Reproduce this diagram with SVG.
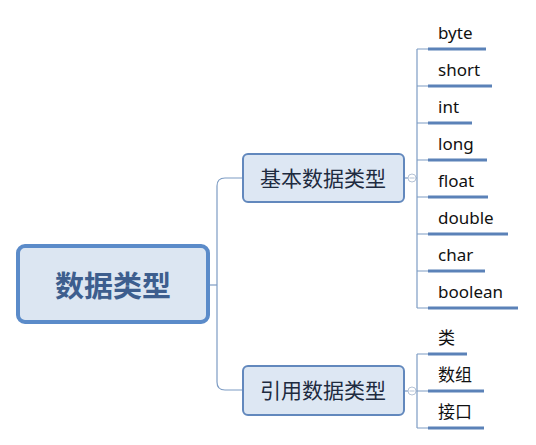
<svg xmlns="http://www.w3.org/2000/svg" width="536" height="445" viewBox="0 0 536 445">
<style>
.conn{fill:none;stroke:#7d9cc4;stroke-width:1.2}
.ul{stroke:#5b82b8;stroke-width:3;stroke-linecap:butt}
.box{fill:#dde7f3;stroke:#6288bd;stroke-width:2}
.root{fill:#dce6f2;stroke:#5b8bc9;stroke-width:4}
.lt{font-family:"Noto Sans","Noto Sans CJK SC",sans-serif;font-size:17px;fill:#111}
.bt{font-family:"Noto Sans CJK SC",sans-serif;font-size:21px;fill:#1e2b40;text-anchor:middle}
.rt{font-family:"Noto Sans CJK SC",sans-serif;font-size:29px;font-weight:bold;fill:#3d5e8e;text-anchor:middle}
.cc{fill:#fff;stroke:#b5c3d6;stroke-width:1}
</style>
<g id="connectors">
<path class="conn" d="M209 285 H217"/>
<path class="conn" d="M243 178 H225 Q217 178 217 186 V382 Q217 390 225 390 H243"/>
<path class="conn" d="M404 178 H417"/>
<path class="conn" d="M417 49 V308"/>
<path class="conn" d="M417 49 H428 M417 86 H428 M417 123 H428 M417 160 H428 M417 197 H428 M417 234 H428 M417 271 H428 M417 308 H428"/>
<path class="conn" d="M404 391 H417"/>
<path class="conn" d="M417 354 V428 M417 354 H428 M417 391 H428 M417 428 H428"/>
</g>
<g id="root">
<rect class="root" x="18" y="246" width="190" height="76" rx="7"/>
<text class="rt" x="113" y="297">数据类型</text>
</g>
<g id="basic">
<rect class="box" x="243" y="154" width="161" height="48" rx="5"/>
<text class="bt" x="323" y="185.5">基本数据类型</text>
<circle class="cc" cx="412" cy="178" r="4"/>
<path d="M409.5 178 H414.5" stroke="#b5c3d6" stroke-width="1"/>
</g>
<g id="ref">
<rect class="box" x="243" y="366" width="161" height="49" rx="5"/>
<text class="bt" x="323" y="398">引用数据类型</text>
<circle class="cc" cx="412" cy="391" r="4"/>
<path d="M409.5 391 H414.5" stroke="#b5c3d6" stroke-width="1"/>
</g>
<g id="byte"><text class="lt" x="438" y="39">byte</text><line class="ul" x1="428" y1="49" x2="486" y2="49"/></g>
<g id="short"><text class="lt" x="438" y="76">short</text><line class="ul" x1="428" y1="86" x2="492" y2="86"/></g>
<g id="int"><text class="lt" x="438" y="113">int</text><line class="ul" x1="428" y1="123" x2="472" y2="123"/></g>
<g id="long"><text class="lt" x="438" y="150">long</text><line class="ul" x1="428" y1="160" x2="487" y2="160"/></g>
<g id="float"><text class="lt" x="438" y="187">float</text><line class="ul" x1="428" y1="197" x2="488" y2="197"/></g>
<g id="double"><text class="lt" x="438" y="224">double</text><line class="ul" x1="428" y1="234" x2="508" y2="234"/></g>
<g id="char"><text class="lt" x="438" y="261">char</text><line class="ul" x1="428" y1="271" x2="485" y2="271"/></g>
<g id="boolean"><text class="lt" x="438" y="298">boolean</text><line class="ul" x1="428" y1="308" x2="518" y2="308"/></g>
<g id="class"><text class="lt" x="438" y="344">类</text><line class="ul" x1="428" y1="354" x2="467" y2="354"/></g>
<g id="array"><text class="lt" x="438" y="381">数组</text><line class="ul" x1="428" y1="391" x2="484" y2="391"/></g>
<g id="iface"><text class="lt" x="438" y="418">接口</text><line class="ul" x1="428" y1="428" x2="484" y2="428"/></g>
</svg>
